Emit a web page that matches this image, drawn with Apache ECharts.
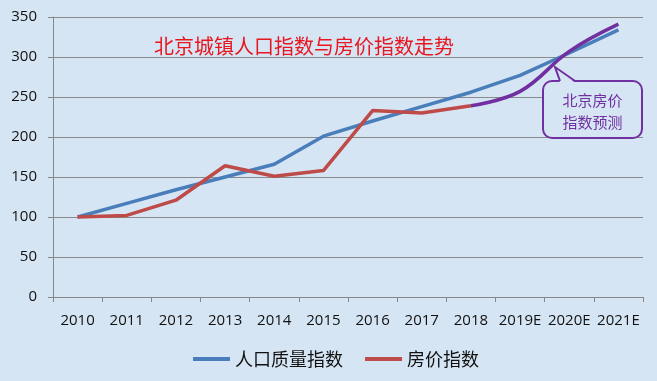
<!DOCTYPE html>
<html>
<head>
<meta charset="utf-8">
<style>
html,body{margin:0;padding:0;background:#d6e5f4;}
#chart{width:657px;height:381px;}
</style>
<script src="https://cdn.jsdelivr.net/npm/echarts@6/dist/echarts.min.js"></script>
</head>
<body>
<div id="chart"></div>
<script>
// ---- data ----
var categories = ['2010','2011','2012','2013','2014','2015','2016','2017','2018','2019E','2020E','2021E'];
var populationIndex = [100, 117, 134, 150, 166, 201, 220, 238, 256, 277, 305, 334];
var housePriceIndex = [100, 102, 121, 164, 151, 158, 233, 230, 239, null, null, null];
var housePriceForecast = [null, null, null, null, null, null, null, null, 239, 257, 307, 341];
var yTicks = {min: 0, max: 350, interval: 50};
var titleText = '北京城镇人口指数与房价指数走势';
var calloutLines = ['北京房价', '指数预测'];
var seriesNames = ['人口质量指数', '房价指数', '房价指数预测'];

var chart = echarts.init(document.getElementById('chart'), null, {renderer: 'canvas'});
var numFont = '"Open Sans", "Liberation Sans", sans-serif';
var cjkFont = '"Noto Sans CJK SC", sans-serif';
var bg = '#d6e5f4';

// callout layout
var bx = 543, by = 81, bw = 99, bh = 57;
var tip = [555, 67];

var option = {
  backgroundColor: bg,
  animation: false,
  title: {
    text: titleText,
    left: 149, top: 31,
    textStyle: {color: '#e8161e', fontSize: 20, fontWeight: 'normal', fontFamily: cjkFont}
  },
  legend: {
    data: [seriesNames[0], seriesNames[1]],
    bottom: 8, left: 188,
    icon: 'rect', itemWidth: 37, itemHeight: 4, itemGap: 22,
    textStyle: {fontSize: 18, color: '#111', fontFamily: cjkFont}
  },
  grid: {left: 53, right: 14, top: 17, bottom: 84, containLabel: false},
  xAxis: {
    type: 'category',
    data: categories,
    boundaryGap: true,
    axisLine: {lineStyle: {color: '#868686', width: 1}},
    axisTick: {show: true, length: 5, lineStyle: {color: '#868686'}},
    axisLabel: {color: '#111', fontSize: 15, fontFamily: numFont, margin: 16, interval: 0}
  },
  yAxis: {
    type: 'value',
    min: yTicks.min, max: yTicks.max, interval: yTicks.interval,
    axisLine: {show: true, lineStyle: {color: '#868686', width: 1}},
    axisTick: {show: true, length: 5, lineStyle: {color: '#868686'}},
    splitLine: {show: true, lineStyle: {color: '#8a8a8a', width: 1}},
    axisLabel: {color: '#111', fontSize: 15, fontFamily: numFont, margin: 16}
  },
  series: [
    {
      name: seriesNames[0], type: 'line', data: populationIndex,
      showSymbol: false, symbol: 'none',
      lineStyle: {color: '#4a7ebb', width: 3.5}, itemStyle: {color: '#4a7ebb'}, z: 3
    },
    {
      name: seriesNames[1], type: 'line', data: housePriceIndex,
      showSymbol: false, symbol: 'none',
      lineStyle: {color: '#be4b48', width: 3.5}, itemStyle: {color: '#be4b48'}, z: 4
    },
    {
      name: seriesNames[2], type: 'line', data: housePriceForecast,
      showSymbol: false, symbol: 'none', smooth: 0.4,
      lineStyle: {color: '#7030a0', width: 3.5}, itemStyle: {color: '#7030a0'}, z: 5
    }
  ],
  graphic: [
    {
      type: 'rect', z: 100,
      shape: {x: bx, y: by, width: bw, height: bh, r: 9},
      style: {fill: bg, stroke: '#7030a0', lineWidth: 2}
    },
    {
      type: 'polygon', z: 101,
      shape: {points: [[560, by + 1.5], tip, [575, by + 1.5]]},
      style: {fill: bg, stroke: null}
    },
    {
      type: 'polyline', z: 102,
      shape: {points: [[560, by], tip, [575, by]]},
      style: {stroke: '#7030a0', lineWidth: 2, fill: null}
    },
    {
      type: 'text', z: 103, x: bx + bw / 2, y: by + 19,
      style: {text: calloutLines[0], fill: '#7030a0', font: '15px ' + cjkFont, align: 'center', verticalAlign: 'middle'}
    },
    {
      type: 'text', z: 103, x: bx + bw / 2, y: by + 41,
      style: {text: calloutLines[1], fill: '#7030a0', font: '15px ' + cjkFont, align: 'center', verticalAlign: 'middle'}
    }
  ]
};
chart.setOption(option);
</script>
</body>
</html>
